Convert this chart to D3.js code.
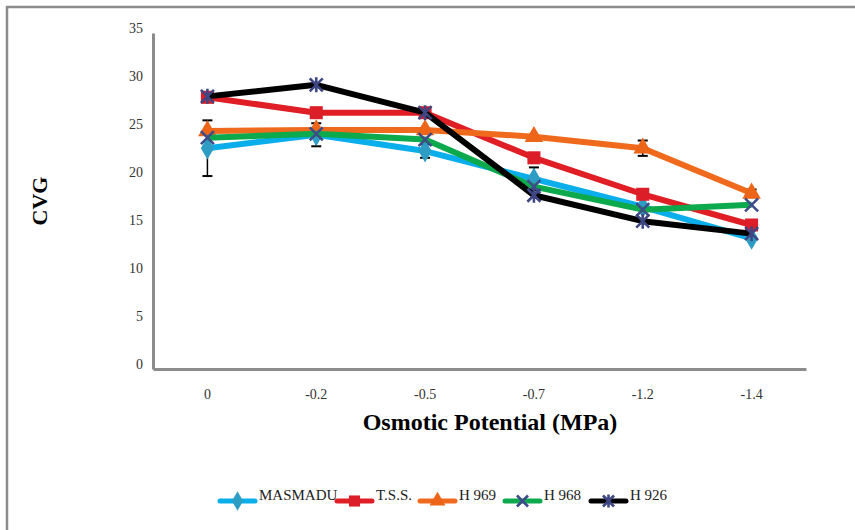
<!DOCTYPE html>
<html>
<head>
<meta charset="utf-8">
<script src="https://cdn.jsdelivr.net/npm/d3@7"></script>
<style>
  body { margin: 0; background: #fff; }
  svg { display: block; font-family: "Liberation Serif", "Times New Roman", serif; }
</style>
</head>
<body>
<svg id="chart"></svg>
<script>
let width = 855;
let height = 530;

// data
let categories = ['0', '-0.2', '-0.5', '-0.7', '-1.2', '-1.4'];
let yTicks = [0, 5, 10, 15, 20, 25, 30, 35];
let masmadu = [23.0, 24.4, 22.7, 19.8, 16.9, 13.6];
let tss = [28.3, 26.7, 26.7, 22.0, 18.2, 15.0];
let h969 = [24.8, 24.9, 24.9, 24.2, 23.0, 18.3];
let h968 = [24.1, 24.5, 23.9, 19.0, 16.6, 17.1];
let h926 = [28.4, 29.6, 26.7, 18.1, 15.4, 14.1];
let masmaduErr = [2.9, 1.2, 0.7, 1.2, 0, 0];
let h969Err = [0, 0, 0, 0, 0.8, 0.4];

let series = [
  { name: 'MASMADU', values: masmadu, err: masmaduErr, line: '#0AAEEB', marker: 'diamond', fill: '#2E9DC3' },
  { name: 'T.S.S.', values: tss, err: null, line: '#E01E26', marker: 'square', fill: '#DC1E28' },
  { name: 'H 969', values: h969, err: h969Err, line: '#EF6A1C', marker: 'triangle', fill: '#EC6519' },
  { name: 'H 968', values: h968, err: null, line: '#0CAA4C', marker: 'x', fill: '#3E4D8A' },
  { name: 'H 926', values: h926, err: null, line: '#000000', marker: 'star', fill: '#3E4683' }
];

let margin = { left: 153, right: 49, top: 33, bottom: 161 };

const svg = d3.select('#chart')
  .attr('width', width)
  .attr('height', height);

// outer frame (left and top only visible)
svg.append('path')
  .attr('d', `M7,${height} V7 H${width}`)
  .attr('fill', 'none')
  .attr('stroke', '#8c8c8c')
  .attr('stroke-width', 2.5);

let xScale = d3.scaleBand()
  .domain(categories)
  .range([margin.left, width - margin.right]);

let yScale = d3.scaleLinear()
  .domain([0, 35])
  .range([height - margin.bottom, margin.top]);

// y axis
let yAxis = svg.append('g')
  .attr('transform', `translate(${margin.left},0)`)
  .call(d3.axisLeft(yScale).tickValues(yTicks).tickSize(0).tickPadding(10));
yAxis.select('.domain').attr('stroke', '#8c8c8c').attr('stroke-width', 3);
yAxis.selectAll('text')
  .attr('font-family', '"Liberation Serif", serif')
  .attr('font-size', 14)
  .attr('fill', '#333')
  .attr('dy', '-0.05em');

// x axis
let xAxis = svg.append('g')
  .attr('transform', `translate(0,${height - margin.bottom})`)
  .call(d3.axisBottom(xScale).tickSize(0).tickPadding(20));
xAxis.select('.domain').attr('stroke', '#8c8c8c').attr('stroke-width', 3);
xAxis.selectAll('text')
  .attr('font-family', '"Liberation Serif", serif')
  .attr('font-size', 14)
  .attr('fill', '#333');

// axis titles
svg.append('text')
  .attr('transform', 'translate(47,201) rotate(-90)')
  .attr('text-anchor', 'middle')
  .attr('font-weight', 'bold')
  .attr('font-size', 22)
  .text('CVG');

svg.append('text')
  .attr('x', 490)
  .attr('y', 430)
  .attr('text-anchor', 'middle')
  .attr('font-weight', 'bold')
  .attr('font-size', 24)
  .text('Osmotic Potential (MPa)');

let cx = d => xScale(d) + xScale.bandwidth() / 2;

let symbols = {
  diamond: d3.symbol().type(d3.symbolDiamond).size(150),
  square: d3.symbol().type(d3.symbolSquare).size(170),
  triangle: d3.symbol().type(d3.symbolTriangle).size(150)
};

function drawMarker(g, s, x, y, k = 1) {
  if (s.marker === 'x' || s.marker === 'star') {
    let r = 6.5 * k;
    let p = `M${x - r},${y - r}L${x + r},${y + r}M${x - r},${y + r}L${x + r},${y - r}`;
    if (s.marker === 'star') p += `M${x},${y - r - 1}L${x},${y + r + 1}`;
    g.append('path').attr('d', p).attr('stroke', s.fill).attr('stroke-width', 2.6).attr('fill', 'none');
  } else {
    g.append('path')
      .attr('d', symbols[s.marker].size(symbols[s.marker].size()() * k * k)())
      .attr('transform', `translate(${x},${y})`)
      .attr('fill', s.fill);
    symbols[s.marker].size(s.marker === 'square' ? 170 : 150);
  }
}

// error bars
let errG = svg.append('g');
series.forEach(s => {
  if (!s.err) return;
  s.values.forEach((v, i) => {
    let e = s.err[i];
    if (!e) return;
    let x = cx(categories[i]);
    let y0 = yScale(v - e), y1 = yScale(v + e);
    errG.append('line').attr('x1', x).attr('x2', x).attr('y1', y0).attr('y2', y1)
      .attr('stroke', '#000').attr('stroke-width', 1.5);
    [y0, y1].forEach(yy => errG.append('line')
      .attr('x1', x - 5).attr('x2', x + 5).attr('y1', yy).attr('y2', yy)
      .attr('stroke', '#000').attr('stroke-width', 2));
  });
});

let line = d3.line()
  .x((d, i) => cx(categories[i]))
  .y(d => yScale(d));

series.forEach(s => {
  let g = svg.append('g');
  g.append('path')
    .datum(s.values)
    .attr('d', line)
    .attr('fill', 'none')
    .attr('stroke', s.line)
    .attr('stroke-width', 6)
    .attr('stroke-linejoin', 'round');
  s.values.forEach((v, i) => drawMarker(g, s, cx(categories[i]), yScale(v)));
});

// legend
let legendX = [220, 337, 420, 505, 591];
let legend = svg.append('g');
series.forEach((s, i) => {
  let x0 = legendX[i];
  let y = 501;
  legend.append('line')
    .attr('x1', x0).attr('x2', x0 + 35).attr('y1', y).attr('y2', y)
    .attr('stroke', s.line).attr('stroke-width', 5).attr('stroke-linecap', 'round');
  drawMarker(legend, s, x0 + 17.5, y, 0.85);
  legend.append('text')
    .attr('x', x0 + 39)
    .attr('y', 500)
    .attr('font-size', 15)
    .attr('fill', '#222')
    .text(s.name);
});
</script>
</body>
</html>
